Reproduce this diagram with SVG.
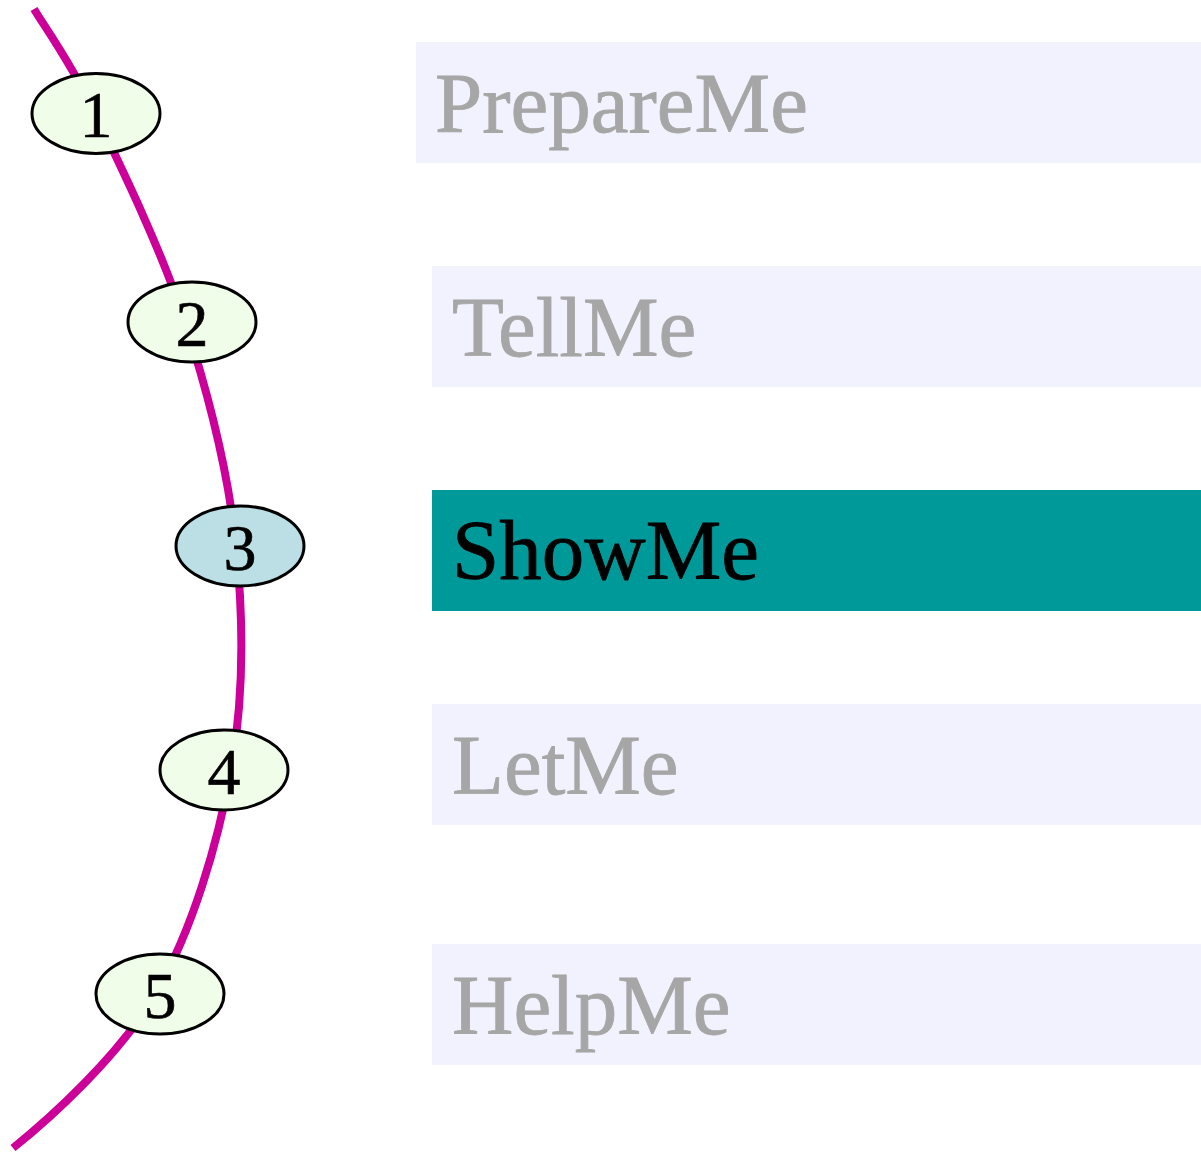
<svg xmlns="http://www.w3.org/2000/svg" width="1201" height="1152" viewBox="0 0 1201 1152">
<style>
.bar{fill:#f2f2ff}
.bar-on{fill:#009999}
.lbl{font-family:"Liberation Serif","Times New Roman",serif;font-size:85px;fill:#a6a6a6;stroke:#a6a6a6;stroke-width:0.8}
.lbl-on{fill:#000;stroke:#000}
.node{fill:#f0fde8;stroke:#000;stroke-width:3}
.node-on{fill:#bbdfe4}
.num{font-family:"Liberation Serif","Times New Roman",serif;font-size:66px;fill:#000;stroke:#000;stroke-width:0.6;text-anchor:middle}
.conn{fill:none;stroke:#cc0099;stroke-width:8}
</style>
<rect width="1201" height="1152" fill="#fff"/>
<g id="menu">
<g id="item-prepareme"><rect class="bar" x="416" y="42" width="785" height="121"/><text class="lbl" x="435" y="132">PrepareMe</text></g>
<g id="item-tellme"><rect class="bar" x="432" y="266" width="769" height="121"/><text class="lbl" x="452" y="356">TellMe</text></g>
<g id="item-showme"><rect class="bar-on" x="432" y="490" width="769" height="121"/><text class="lbl lbl-on" x="452" y="579">ShowMe</text></g>
<g id="item-letme"><rect class="bar" x="432" y="704" width="769" height="121"/><text class="lbl" x="452" y="794">LetMe</text></g>
<g id="item-helpme"><rect class="bar" x="432" y="944" width="769" height="121"/><text class="lbl" x="452" y="1034">HelpMe</text></g>
</g>
<g id="connectors">
<path class="conn" d="M34,9 C44.2,26.3 69.8,60.8 95,113 C120.2,165.2 161.5,249.8 185,322 C208.5,394.2 228.3,471.3 236,546 C243.7,620.7 244.3,695.5 231,770 C217.7,844.5 192.3,930 156,993 C119.7,1056 48,1120 13,1148"/>
</g>
<g id="node-1"><ellipse class="node" cx="96" cy="113.5" rx="64" ry="40"/><text class="num" x="96" y="137">1</text></g>
<g id="node-2"><ellipse class="node" cx="192" cy="322" rx="64" ry="40"/><text class="num" x="192" y="345.5">2</text></g>
<g id="node-3"><ellipse class="node node-on" cx="240" cy="546" rx="64" ry="40"/><text class="num" x="240" y="569.5">3</text></g>
<g id="node-4"><ellipse class="node" cx="224" cy="770" rx="64" ry="40"/><text class="num" x="224" y="793.5">4</text></g>
<g id="node-5"><ellipse class="node" cx="160" cy="994" rx="64" ry="40"/><text class="num" x="160" y="1017.5">5</text></g>
</svg>
